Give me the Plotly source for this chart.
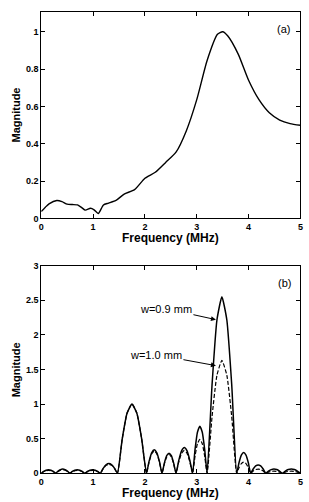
import plotly.graph_objects as go

# Panel (a): measured magnitude spectrum
freq_a = [0.0, 0.08, 0.15, 0.3, 0.4, 0.5, 0.6, 0.7, 0.78, 0.85, 0.95, 1.02, 1.1, 1.2, 1.3, 1.45,
          1.6, 1.8, 2.0, 2.2, 2.4, 2.6, 2.8, 3.0, 3.2, 3.4, 3.5, 3.6, 3.8, 4.0, 4.2, 4.4, 4.6, 4.8, 5.0]
mag_a = [0.037, 0.06, 0.078, 0.096, 0.09, 0.076, 0.074, 0.072, 0.058, 0.044, 0.054, 0.046, 0.026,
         0.072, 0.082, 0.098, 0.13, 0.154, 0.215, 0.247, 0.30, 0.355, 0.47, 0.636, 0.846, 0.986,
         1.0, 0.977, 0.88, 0.74, 0.636, 0.566, 0.527, 0.508, 0.499]

# Panel (b): lobes (zeros and peaks)
zeros_b = [0.0, 0.28, 0.55, 0.84, 1.14, 1.47, 2.03, 2.33, 2.6, 2.92, 3.2, 3.77, 4.04, 4.33, 4.65, 5.0]
peaks_w09 = [0.05, 0.06, 0.05, 0.05, 0.14, 1.0, 0.34, 0.29, 0.37, 0.68, 2.55, 0.30, 0.12, 0.06, 0.06]
peaks_w10 = [0.04, 0.05, 0.04, 0.04, 0.13, 1.0, 0.32, 0.27, 0.33, 0.49, 1.63, 0.16, 0.06, 0.03, 0.03]
lobe_shape = [0.0, 0.5, 0.87, 1.0, 0.87, 0.5]   # relative heights across a lobe

def lobes(peaks):
    xs, ys = [], []
    for i, p in enumerate(peaks):
        a, b = zeros_b[i], zeros_b[i + 1]
        n = len(lobe_shape)
        for k, s in enumerate(lobe_shape):
            xs.append(a + (b - a) * k / n)
            ys.append(p * s)
    xs.append(zeros_b[-1])
    ys.append(0.0)
    return xs, ys

xb1, yb1 = lobes(peaks_w09)
xb2, yb2 = lobes(peaks_w10)

fig = go.Figure()
fig.add_trace(go.Scatter(x=freq_a, y=mag_a, mode="lines", line=dict(color="black", width=1.4, shape="spline", smoothing=0.6),
                         xaxis="x", yaxis="y", showlegend=False))
fig.add_trace(go.Scatter(x=xb2, y=yb2, mode="lines", line=dict(color="black", width=1.2, dash="4px,2px", shape="spline", smoothing=0.5),
                         xaxis="x2", yaxis="y2", showlegend=False))
fig.add_trace(go.Scatter(x=xb1, y=yb1, mode="lines", line=dict(color="black", width=1.5, shape="spline", smoothing=0.5),
                         xaxis="x2", yaxis="y2", showlegend=False))

tickfont = dict(family="Liberation Sans, Arial", size=9, color="black")
axcommon = dict(showline=True, linecolor="black", linewidth=1, mirror="ticks", ticks="inside", ticklen=4,
                tickcolor="black", showgrid=False, zeroline=False, tickfont=tickfont)
xdom = [0.1262, 0.9816]
fig.update_layout(
    width=309, height=502, margin=dict(l=0, r=0, t=0, b=0),
    paper_bgcolor="white", plot_bgcolor="white",
    xaxis=dict(domain=xdom, range=[0, 5], tickvals=[0, 1, 2, 3, 4, 5], ticktext=["<b>0</b>", "<b>1</b>", "<b>2</b>", "<b>3</b>", "<b>4</b>", "<b>5</b>"], anchor="y", **axcommon),
    yaxis=dict(domain=[0.5663, 0.9855], range=[0, 1.105], tickvals=[0, 0.2, 0.4, 0.6, 0.8, 1],
               ticktext=["<b>0</b>", "<b>0.2</b>", "<b>0.4</b>", "<b>0.6</b>", "<b>0.8</b>", "<b>1</b>"], anchor="x", **axcommon),
    xaxis2=dict(domain=xdom, range=[0, 5], tickvals=[0, 1, 2, 3, 4, 5], ticktext=["<b>0</b>", "<b>1</b>", "<b>2</b>", "<b>3</b>", "<b>4</b>", "<b>5</b>"], anchor="y2", **axcommon),
    yaxis2=dict(domain=[0.0484, 0.4701], range=[0, 3], tickvals=[0, 0.5, 1, 1.5, 2, 2.5, 3],
                ticktext=["<b>0</b>", "<b>0.5</b>", "<b>1</b>", "<b>1.5</b>", "<b>2</b>", "<b>2.5</b>", "<b>3</b>"], anchor="x2", **axcommon),
)

titlefont = dict(family="Liberation Sans, Arial", size=12, color="black")
ann = []
ann.append(dict(text="<b>Frequency (MHz)</b>", xref="paper", yref="paper", x=(39 + 303.3) / 2 / 309, y=1 - 238 / 502,
                showarrow=False, font=titlefont, xanchor="center", yanchor="middle"))
ann.append(dict(text="<b>Frequency (MHz)</b>", xref="paper", yref="paper", x=(39 + 303.3) / 2 / 309, y=1 - 498 / 502,
                showarrow=False, font=titlefont, xanchor="center", yanchor="middle"))
ann.append(dict(text="<b>Magnitude</b>", xref="paper", yref="paper", x=13 / 309, y=1 - 112 / 502, textangle=-90,
                showarrow=False, font=dict(family="Liberation Sans, Arial", size=11, color="black"), xanchor="center", yanchor="middle"))
ann.append(dict(text="<b>Magnitude</b>", xref="paper", yref="paper", x=13 / 309, y=1 - 372 / 502, textangle=-90,
                showarrow=False, font=dict(family="Liberation Sans, Arial", size=11, color="black"), xanchor="center", yanchor="middle"))
ann.append(dict(text="(a)", xref="paper", yref="paper", x=286 / 309, y=1 - 24 / 502, showarrow=False,
                font=dict(family="Liberation Sans, Arial", size=11, color="black"), xanchor="center", yanchor="middle"))
ann.append(dict(text="(b)", xref="paper", yref="paper", x=287 / 309, y=1 - 284 / 502, showarrow=False,
                font=dict(family="Liberation Sans, Arial", size=11, color="black"), xanchor="center", yanchor="middle"))
ann.append(dict(text="w=0.9 mm", xref="x2", yref="y2", x=3.37, y=2.22, ax=-50, ay=-11, showarrow=True,
                arrowhead=2, arrowsize=1, arrowwidth=1, arrowcolor="black",
                font=dict(family="Liberation Sans, Arial", size=11, color="black")))
ann.append(dict(text="w=1.0 mm", xref="x2", yref="y2", x=3.37, y=1.555, ax=-60, ay=-11, showarrow=True,
                arrowhead=2, arrowsize=1, arrowwidth=1, arrowcolor="black",
                font=dict(family="Liberation Sans, Arial", size=11, color="black")))
fig.update_layout(annotations=ann)

fig.write_html("out.html")
